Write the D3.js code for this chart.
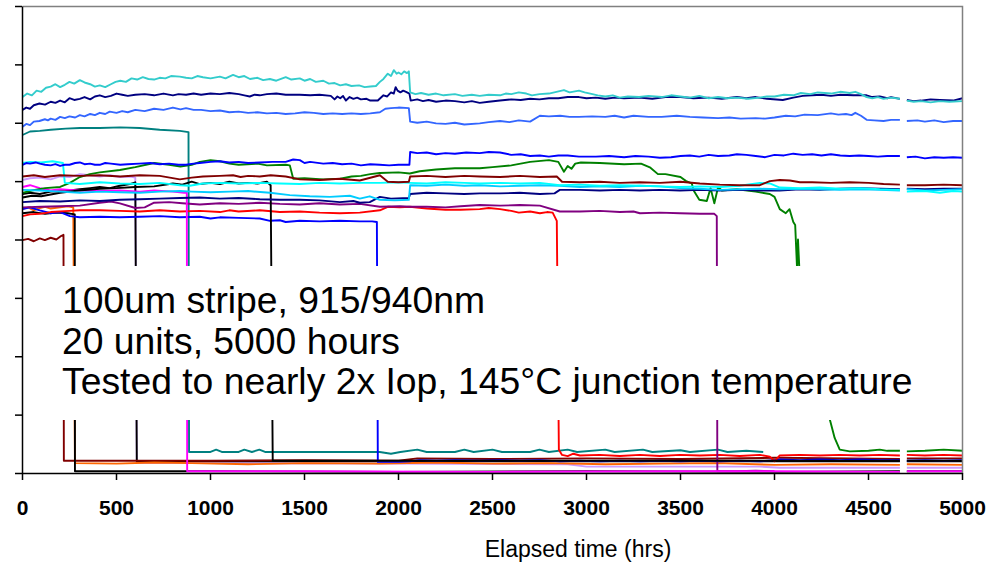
<!DOCTYPE html>
<html><head><meta charset="utf-8">
<script src="https://cdn.jsdelivr.net/npm/d3@7"></script>
<style>body{margin:0;background:#fff}svg{display:block}</style>
</head><body>
<svg id="c" width="1006" height="564"></svg>
<script>
// ---------- data (time in hours, value in axis units 0..8) ----------
const timeTicks = [0,500,1000,1500,2000,2500,3000,3500,4000,4500,5000];
const valueTicks = [0,1,2,3,4,5,6,7,8];
const xTitle = "Elapsed time (hrs)";
const notes = ["100um stripe, 915/940nm","20 units, 5000 hours","Tested to nearly 2x Iop, 145°C junction temperature"];

const turquoise = [[0,6.44],[25,6.50],[50,6.47],[75,6.55],[100,6.53],[125,6.60],[150,6.62],[175,6.66],[200,6.61],[225,6.65],[250,6.70],[275,6.67],[305,6.73],[330,6.69],[360,6.66],[385,6.62],[411,6.64],[440,6.61],[470,6.66],[495,6.70],[520,6.72],[550,6.70],[580,6.76],[610,6.74],[640,6.78],[670,6.75],[700,6.74],[730,6.77],[760,6.76],[790,6.80],[837,6.79],[870,6.77],[900,6.76],[930,6.80],[960,6.78],[1000,6.76],[1050,6.79],[1080,6.76],[1120,6.82],[1150,6.78],[1180,6.80],[1210,6.75],[1250,6.77],[1280,6.73],[1316,6.75],[1350,6.72],[1400,6.78],[1430,6.74],[1475,6.76],[1500,6.72],[1530,6.75],[1560,6.70],[1600,6.72],[1630,6.67],[1660,6.68],[1690,6.64],[1720,6.66],[1750,6.63],[1790,6.64],[1820,6.61],[1850,6.62],[1880,6.63],[1901,6.70],[1920,6.75],[1943,6.84],[1960,6.80],[1975,6.90],[1990,6.84],[2000,6.86],[2015,6.83],[2030,6.88],[2045,6.85],[2055,6.88],[2062,6.52],[2090,6.49],[2120,6.51],[2160,6.48],[2200,6.50],[2240,6.47],[2300,6.49],[2340,6.46],[2390,6.48],[2432,6.46],[2480,6.48],[2540,6.47],[2570,6.50],[2600,6.49],[2640,6.52],[2680,6.50],[2710,6.47],[2750,6.49],[2800,6.50],[2840,6.53],[2880,6.56],[2910,6.52],[2960,6.55],[2990,6.52],[3020,6.50],[3060,6.47],[3100,6.45],[3140,6.47],[3177,6.43],[3220,6.45],[3280,6.44],[3330,6.46],[3400,6.44],[3450,6.47],[3500,6.45],[3550,6.43],[3600,6.46],[3650,6.42],[3700,6.44],[3750,6.42],[3800,6.43],[3860,6.41],[3920,6.43],[3960,6.45],[4000,6.45],[4050,6.48],[4100,6.47],[4140,6.51],[4190,6.49],[4230,6.52],[4300,6.50],[4350,6.53],[4400,6.51],[4430,6.53],[4460,6.49],[4490,6.44],[4520,6.42],[4550,6.44],[4580,6.41],[4620,6.43],[4667,6.41],[4685,null],[4704,6.38],[4740,6.36],[4780,6.37],[4830,6.35],[4880,6.37],[4930,6.36],[5000,6.37]];
const navyTop = [[0,6.22],[20,6.26],[40,6.24],[60,6.30],[90,6.33],[120,6.31],[150,6.36],[175,6.34],[200,6.38],[225,6.35],[250,6.42],[275,6.39],[305,6.41],[330,6.44],[360,6.40],[385,6.45],[411,6.47],[440,6.44],[470,6.46],[500,6.50],[530,6.48],[560,6.46],[600,6.48],[650,6.49],[700,6.47],[750,6.50],[800,6.47],[830,6.49],[870,6.48],[910,6.50],[950,6.48],[1000,6.50],[1050,6.49],[1100,6.51],[1150,6.49],[1180,6.47],[1209,6.45],[1235,6.48],[1262,6.47],[1300,6.49],[1350,6.50],[1400,6.48],[1475,6.48],[1530,6.47],[1580,6.48],[1640,6.46],[1660,6.40],[1675,6.45],[1690,6.42],[1705,6.46],[1720,6.38],[1740,6.44],[1760,6.41],[1780,6.43],[1800,6.40],[1830,6.41],[1850,6.38],[1890,6.38],[1920,6.47],[1940,6.45],[1960,6.52],[1975,6.50],[1985,6.61],[1995,6.55],[2010,6.52],[2025,6.55],[2040,6.53],[2058,6.50],[2065,6.38],[2100,6.40],[2130,6.37],[2160,6.39],[2200,6.36],[2250,6.38],[2300,6.37],[2350,6.35],[2390,6.37],[2432,6.34],[2480,6.36],[2540,6.38],[2600,6.40],[2650,6.39],[2700,6.41],[2750,6.40],[2800,6.42],[2850,6.42],[2900,6.44],[2960,6.44],[3000,6.42],[3050,6.43],[3100,6.41],[3150,6.43],[3200,6.42],[3280,6.43],[3350,6.41],[3420,6.44],[3500,6.44],[3570,6.42],[3650,6.43],[3720,6.41],[3800,6.44],[3850,6.42],[3900,6.44],[3960,6.41],[4044,6.39],[4100,6.43],[4150,6.46],[4200,6.47],[4250,6.48],[4300,6.46],[4350,6.48],[4420,6.47],[4490,6.47],[4520,6.44],[4560,6.45],[4600,6.42],[4620,6.44],[4667,6.41],[4685,null],[4704,6.39],[4740,6.37],[4780,6.38],[4830,6.40],[4880,6.39],[4950,6.38],[5000,6.42]];
const royalBlue = [[0,5.93],[20,5.98],[40,5.96],[60,6.02],[90,6.03],[119,6.06],[135,6.04],[150,6.07],[175,6.05],[200,6.10],[225,6.08],[250,6.11],[280,6.09],[305,6.13],[330,6.11],[360,6.15],[385,6.13],[411,6.17],[440,6.15],[464,6.19],[500,6.17],[530,6.20],[560,6.18],[600,6.22],[650,6.20],[700,6.24],[750,6.22],[800,6.26],[840,6.23],[870,6.25],[910,6.22],[950,6.22],[1000,6.20],[1050,6.21],[1100,6.18],[1150,6.19],[1200,6.17],[1250,6.18],[1300,6.16],[1350,6.17],[1400,6.15],[1450,6.16],[1500,6.18],[1550,6.17],[1600,6.15],[1650,6.16],[1700,6.15],[1750,6.16],[1800,6.15],[1850,6.16],[1901,6.18],[1930,6.24],[1960,6.25],[2000,6.26],[2055,6.25],[2062,6.02],[2100,6.00],[2150,6.02],[2200,5.99],[2250,5.98],[2300,6.00],[2350,5.97],[2432,5.99],[2480,6.01],[2540,6.03],[2590,6.01],[2640,6.04],[2700,6.02],[2752,6.12],[2800,6.11],[2860,6.12],[2910,6.10],[2960,6.10],[3030,6.11],[3100,6.10],[3150,6.12],[3200,6.09],[3250,6.12],[3330,6.10],[3400,6.10],[3480,6.12],[3550,6.10],[3620,6.09],[3700,6.08],[3760,6.09],[3820,6.07],[3900,6.08],[3950,6.07],[4000,6.09],[4060,6.12],[4110,6.11],[4160,6.14],[4230,6.13],[4300,6.16],[4340,6.14],[4380,6.15],[4410,6.13],[4430,6.17],[4460,6.12],[4490,6.05],[4530,6.04],[4580,6.03],[4620,6.05],[4667,6.05],[4685,null],[4704,6.03],[4760,6.04],[4800,6.02],[4850,6.04],[4900,6.01],[4950,6.03],[5000,6.03]];
const teal = [[0,5.79],[40,5.85],[92,5.86],[150,5.88],[230,5.90],[305,5.91],[411,5.91],[520,5.92],[624,5.91],[730,5.88],[837,5.86],[883,5.84],[886,0.36],[1000,0.36],[1030,0.40],[1060,0.36],[1150,0.36],[1180,0.40],[1220,0.36],[1260,0.40],[1290,0.36],[1900,0.36],[1960,0.33],[2010,0.36],[2100,0.40],[2150,0.36],[2300,0.36],[2350,0.40],[2400,0.36],[2500,0.40],[2550,0.36],[2700,0.36],[2750,0.40],[2800,0.36],[2900,0.40],[2950,0.36],[3100,0.40],[3150,0.36],[3300,0.40],[3350,0.36],[3500,0.39],[3550,0.36],[3700,0.40],[3750,0.36],[3850,0.38],[3940,0.36]];
const blueTop = [[0,5.28],[20,5.31],[40,5.30],[70,5.32],[92,5.30],[120,5.28],[150,5.27],[175,5.29],[200,5.26],[225,5.28],[250,5.28],[280,5.31],[305,5.32],[330,5.29],[360,5.30],[385,5.28],[411,5.28],[440,5.31],[470,5.30],[520,5.28],[560,5.29],[620,5.30],[680,5.31],[730,5.29],[780,5.30],[830,5.28],[870,5.28],[910,5.30],[943,5.31],[1000,5.33],[1050,5.34],[1100,5.32],[1150,5.33],[1200,5.31],[1262,5.32],[1330,5.33],[1400,5.33],[1440,5.37],[1475,5.36],[1500,5.31],[1530,5.33],[1600,5.30],[1650,5.31],[1700,5.29],[1750,5.30],[1800,5.27],[1850,5.29],[1900,5.28],[1950,5.27],[2000,5.28],[2058,5.28],[2062,5.50],[2100,5.48],[2150,5.49],[2200,5.46],[2250,5.48],[2300,5.47],[2360,5.49],[2432,5.48],[2480,5.50],[2540,5.49],[2600,5.45],[2650,5.46],[2700,5.43],[2752,5.44],[2800,5.42],[2850,5.44],[2900,5.44],[2960,5.42],[3050,5.42],[3120,5.43],[3200,5.41],[3260,5.43],[3330,5.42],[3390,5.40],[3450,5.41],[3500,5.43],[3550,5.44],[3600,5.42],[3650,5.45],[3700,5.43],[3760,5.44],[3800,5.46],[3850,5.45],[3900,5.43],[3950,5.41],[4000,5.45],[4050,5.44],[4100,5.47],[4150,5.45],[4200,5.46],[4250,5.44],[4300,5.46],[4350,5.44],[4400,5.43],[4450,5.44],[4500,5.43],[4550,5.42],[4600,5.43],[4667,5.43],[4685,null],[4704,5.41],[4750,5.42],[4800,5.39],[4850,5.41],[4900,5.40],[4950,5.41],[5000,5.40]];
const green = [[0,4.80],[50,4.84],[120,4.88],[200,4.90],[252,4.97],[305,5.07],[358,5.12],[411,5.15],[518,5.19],[600,5.24],[700,5.31],[780,5.28],[840,5.25],[900,5.28],[943,5.33],[1000,5.36],[1050,5.34],[1100,5.30],[1150,5.28],[1250,5.30],[1300,5.27],[1400,5.28],[1422,5.27],[1440,5.04],[1500,5.05],[1600,5.03],[1690,5.04],[1750,5.08],[1800,5.09],[1850,5.12],[1900,5.14],[2000,5.15],[2060,5.13],[2113,5.17],[2200,5.20],[2300,5.22],[2432,5.22],[2500,5.24],[2600,5.27],[2700,5.33],[2800,5.36],[2850,5.33],[2880,5.16],[2900,5.26],[2920,5.21],[2940,5.30],[2970,5.32],[3071,5.31],[3200,5.29],[3290,5.30],[3340,5.23],[3380,5.12],[3420,5.12],[3500,5.07],[3530,5.00],[3560,4.96],[3570,4.84],[3600,4.68],[3640,4.66],[3660,4.88],[3680,4.62],[3700,4.90],[3720,4.84],[3800,4.86],[3900,4.82],[3975,4.78],[4000,4.73],[4028,4.52],[4060,4.45],[4080,4.52],[4100,4.30],[4110,4.25],[4120,3.50],[4125,4.00],[4135,3.30],[4150,2.50],[4294,0.92],[4320,0.60],[4347,0.40],[4400,0.37],[4500,0.38],[4560,0.40],[4600,0.38],[4667,0.38],[4685,null],[4704,0.37],[4800,0.38],[4900,0.40],[5000,0.38]];
const maroonTop = [[0,5.08],[60,5.10],[119,5.07],[200,5.10],[305,5.09],[411,5.10],[520,5.08],[624,5.10],[730,5.09],[837,5.03],[900,5.06],[960,5.08],[1050,5.09],[1120,5.10],[1160,5.07],[1200,5.09],[1262,5.08],[1320,5.10],[1400,5.08],[1475,5.03],[1580,5.02],[1688,5.04],[1794,5.01],[1901,5.10],[1943,4.99],[2000,4.98],[2055,4.99],[2062,5.08],[2150,5.09],[2250,5.07],[2350,5.09],[2432,5.08],[2540,5.07],[2645,5.09],[2752,5.07],[2842,5.08],[2870,4.99],[2965,4.98],[3071,4.99],[3177,4.97],[3284,4.98],[3390,4.97],[3500,4.99],[3603,4.96],[3709,4.94],[3815,4.93],[3922,4.93],[3975,5.00],[4028,5.02],[4082,5.01],[4135,4.98],[4200,4.98],[4300,4.97],[4400,4.98],[4500,4.97],[4580,4.95],[4667,4.94],[4685,null],[4704,4.93],[4800,4.93],[4900,4.94],[5000,4.93]];
const cyan = [[0,5.31],[40,5.33],[100,5.32],[160,5.34],[215,5.31],[225,4.97],[305,4.95],[411,4.98],[518,4.96],[624,4.95],[730,4.97],[837,4.93],[890,4.92],[960,4.96],[1050,4.97],[1150,4.96],[1262,4.97],[1369,4.96],[1475,4.95],[1580,4.97],[1688,4.96],[1794,4.97],[1901,4.97],[2000,4.98],[2060,4.97],[2150,4.96],[2250,4.98],[2350,4.97],[2432,4.96],[2540,4.97],[2645,4.96],[2752,4.97],[2858,4.93],[2965,4.94],[3071,4.92],[3177,4.93],[3284,4.92],[3390,4.91],[3497,4.90],[3603,4.91],[3709,4.90],[3815,4.92],[3922,4.97],[3975,4.96],[4028,4.89],[4135,4.88],[4241,4.89],[4347,4.87],[4454,4.88],[4560,4.86],[4667,4.85],[4685,null],[4704,4.82],[4800,4.83],[4880,4.80],[4950,4.83],[5000,4.82]];
const skyBlue = [[0,4.85],[92,4.84],[200,4.82],[305,4.80],[411,4.82],[518,4.81],[624,4.80],[730,4.82],[837,4.83],[900,4.82],[1000,4.81],[1100,4.82],[1200,4.83],[1316,4.80],[1422,4.76],[1528,4.74],[1635,4.73],[1741,4.75],[1794,4.70],[1847,4.74],[1901,4.68],[1980,4.67],[2055,4.68],[2062,4.93],[2150,4.92],[2250,4.94],[2350,4.92],[2432,4.93],[2540,4.91],[2645,4.92],[2752,4.93],[2858,4.92],[2965,4.90],[3071,4.91],[3177,4.90],[3284,4.92],[3390,4.91],[3497,4.88],[3603,4.87],[3709,4.85],[3815,4.86],[3922,4.87],[4028,4.86],[4135,4.87],[4241,4.86],[4347,4.85],[4454,4.86],[4560,4.85],[4667,4.84],[4685,null],[4704,4.86],[4800,4.84],[4900,4.85],[5000,4.86]];
const navyLow = [[0,4.64],[92,4.66],[200,4.65],[305,4.67],[411,4.66],[518,4.68],[624,4.69],[730,4.70],[837,4.71],[943,4.72],[1050,4.70],[1150,4.71],[1262,4.69],[1369,4.68],[1475,4.68],[1580,4.67],[1688,4.64],[1760,4.66],[1794,4.63],[1847,4.64],[1901,4.73],[1960,4.70],[2055,4.71],[2062,4.78],[2150,4.80],[2250,4.79],[2350,4.78],[2432,4.79],[2540,4.79],[2645,4.80],[2752,4.78],[2830,4.79],[2858,4.85],[2965,4.85],[3071,4.84],[3177,4.85],[3284,4.84],[3390,4.85],[3497,4.84],[3603,4.85],[3709,4.84],[3815,4.85],[3922,4.84],[4028,4.84],[4135,4.86],[4241,4.85],[4347,4.87],[4454,4.88],[4560,4.87],[4667,4.86],[4685,null],[4704,4.87],[4800,4.86],[4900,4.87],[5000,4.87]];
const purple = [[0,4.55],[100,4.56],[200,4.57],[305,4.58],[411,4.63],[470,4.65],[518,4.62],[600,4.54],[650,4.55],[700,4.63],[780,4.64],[850,4.62],[943,4.60],[1050,4.62],[1150,4.61],[1262,4.63],[1369,4.61],[1475,4.60],[1580,4.62],[1688,4.60],[1794,4.61],[1901,4.56],[2007,4.57],[2060,4.56],[2150,4.56],[2250,4.55],[2330,4.57],[2432,4.59],[2540,4.58],[2645,4.59],[2752,4.58],[2858,4.48],[2965,4.48],[3071,4.49],[3177,4.47],[3250,4.48],[3284,4.45],[3390,4.46],[3497,4.45],[3603,4.44],[3680,4.44],[3693,4.40],[3696,0.03],[3800,0.03],[3900,0.04],[4000,0.03]];
const red = [[0,4.40],[40,4.43],[92,4.44],[150,4.47],[250,4.49],[305,4.50],[411,4.50],[518,4.49],[624,4.48],[730,4.50],[837,4.48],[943,4.49],[1050,4.47],[1100,4.50],[1150,4.48],[1262,4.50],[1369,4.47],[1475,4.48],[1580,4.46],[1688,4.45],[1794,4.46],[1901,4.50],[1943,4.56],[2007,4.55],[2060,4.56],[2150,4.53],[2250,4.51],[2330,4.51],[2432,4.52],[2480,4.54],[2540,4.52],[2600,4.49],[2640,4.46],[2700,4.48],[2752,4.45],[2790,4.47],[2820,4.46],[2842,4.32],[2853,0.40],[2870,0.31],[2900,0.29],[2930,0.33],[2965,0.30],[3071,0.31],[3177,0.29],[3284,0.31],[3390,0.29],[3497,0.31],[3603,0.30],[3709,0.31],[3815,0.29],[3922,0.31],[3975,0.28],[4000,0.20],[4028,0.30],[4135,0.31],[4241,0.30],[4347,0.31],[4454,0.30],[4560,0.31],[4667,0.30],[4685,null],[4704,0.31],[4800,0.30],[4900,0.31],[5000,0.30]];
const blueLow = [[0,4.52],[40,4.55],[92,4.50],[150,4.45],[200,4.47],[252,4.40],[305,4.38],[411,4.39],[518,4.38],[624,4.39],[730,4.40],[837,4.38],[943,4.39],[1000,4.36],[1050,4.38],[1150,4.37],[1262,4.36],[1316,4.32],[1369,4.33],[1400,4.30],[1475,4.32],[1580,4.31],[1688,4.32],[1794,4.31],[1860,4.31],[1885,4.30],[1890,0.19],[2000,0.19],[2060,0.20],[2113,0.22],[2200,0.21],[2300,0.22],[2432,0.21],[2540,0.22],[2645,0.21],[2752,0.22],[2858,0.20],[2965,0.21],[3071,0.20],[3177,0.21],[3284,0.20],[3390,0.21],[3497,0.20],[3603,0.21],[3709,0.20],[3815,0.21],[3922,0.20],[4028,0.23],[4135,0.22],[4241,0.23],[4347,0.22],[4454,0.23],[4560,0.22],[4667,0.22],[4685,null],[4704,0.21],[4800,0.22],[4900,0.21],[5000,0.22]];
const blackA = [[0,4.45],[60,4.47],[120,4.44],[180,4.46],[240,4.45],[278,4.43],[279,0.03],[1000,0.03],[2000,0.02],[3000,0.03],[4000,0.02],[4667,0.03],[4685,null],[4704,0.03],[5000,0.03]];
const orange = [[0,4.52],[30,4.55],[60,4.50],[92,4.54],[120,4.56],[150,4.53],[200,4.55],[240,4.57],[270,4.55],[279,0.17],[500,0.16],[700,0.18],[900,0.17],[1200,0.15],[1500,0.17],[1900,0.16],[2200,0.18],[2500,0.16],[2800,0.17],[3100,0.15],[3400,0.16],[3700,0.17],[4000,0.14],[4300,0.15],[4667,0.14],[4685,null],[4704,0.15],[5000,0.14]];
const maroonLow = [[0,3.99],[30,4.01],[60,3.97],[92,4.02],[119,3.99],[150,4.03],[180,4.00],[205,4.06],[218,4.08],[220,0.21],[600,0.21],[1000,0.21],[1500,0.22],[2000,0.21],[2100,0.25],[2500,0.24],[3000,0.25],[3500,0.24],[4000,0.26],[4400,0.25],[4667,0.24],[4685,null],[4704,0.25],[5000,0.25]];
const magenta = [[0,4.90],[40,4.93],[92,4.88],[150,4.84],[200,4.86],[252,4.85],[305,4.84],[411,4.83],[518,4.84],[624,4.82],[700,4.84],[800,4.82],[860,4.80],[874,4.80],[876,0.03],[1500,0.03],[2500,0.02],[3500,0.03],[4000,0.03],[4667,0.02],[4685,null],[4704,0.03],[5000,0.03]];
const lavender = [[0,5.02],[40,5.05],[92,5.06],[150,5.03],[200,5.08],[252,5.07],[305,5.12],[360,5.10],[411,5.08],[464,5.10],[518,5.07],[571,5.08],[600,5.06],[608,0.17],[1000,0.17],[2000,0.16],[2900,0.15],[3000,0.11],[3922,0.11],[4028,0.09],[4667,0.09],[4685,null],[4704,0.09],[5000,0.09]];
const blackB = [[0,4.78],[40,4.80],[92,4.78],[150,4.82],[230,4.83],[305,4.86],[360,4.88],[411,4.90],[464,4.88],[518,4.92],[571,4.95],[600,4.98],[608,0.20],[1500,0.20],[3000,0.20],[4667,0.20],[4685,null],[4704,0.20],[5000,0.20]];
const blackC = [[0,4.72],[50,4.75],[100,4.74],[200,4.80],[300,4.84],[411,4.87],[500,4.88],[600,4.90],[700,4.91],[800,4.96],[850,4.94],[900,4.99],[943,4.95],[1000,4.97],[1050,4.95],[1100,4.99],[1150,4.96],[1200,4.97],[1250,4.96],[1300,4.99],[1320,4.93],[1331,0.21],[2000,0.21],[3000,0.21],[4667,0.21],[4685,null],[4704,0.21],[5000,0.21]];

const seriesData = [lavender, blackB, teal, maroonLow, orange, blackA, blueLow, red, purple, magenta, blackC, green, navyLow, skyBlue, cyan, maroonTop, blueTop, royalBlue, navyTop, turquoise];
const seriesColors = ["#CC99FF","#000000","#008080","#800000","#FF6600","#000000","#0000FF","#FF0000","#800080","#FF00FF","#000000","#008000","#000080","#00CCFF","#00FFFF","#800000","#0000FF","#3366FF","#000080","#33CCCC"];

// ---------- drawing ----------
const svg = d3.select("#c");
const x = d3.scaleLinear().domain([0,5000]).range([22,962]);
const y = d3.scaleLinear().domain([0,8]).range([473,6]);
const line = d3.line().defined(d => d[1] != null).x(d => x(d[0]) + 0.5).y(d => y(d[1]));

svg.append("g").attr("fill","none").attr("stroke-width",1.9).attr("stroke-linejoin","round")
  .selectAll("path").data(seriesData).join("path")
  .attr("stroke",(d,i)=>seriesColors[i]).attr("d",d=>line(d));

// text box (white, hides lines behind it)
svg.append("rect").attr("x",x(0)+2).attr("y",266).attr("width",x(5000)-x(0)-3).attr("height",154).attr("fill","#fff");
svg.append("g").attr("font-family","'Liberation Sans', Arial, sans-serif").attr("font-size",37.3).attr("fill","#000")
  .selectAll("text").data(notes).join("text")
  .attr("x",62).attr("y",(d,i)=>313+i*40.5).text(d=>d);

// frame top/right
svg.append("path").attr("fill","none").attr("stroke","#808080").attr("stroke-width",1.5)
  .attr("d",`M${x(0)+0.5},${y(8)+0.5}H${x(5000)+0.5}V${y(0)+0.5}`);

const xAxis = svg.append("g").attr("transform",`translate(0,${y(0)})`)
  .call(d3.axisBottom(x).tickValues(timeTicks).tickSize(7).tickSizeOuter(0).tickPadding(20).tickFormat(d3.format("d")));
xAxis.selectAll("text").attr("font-family","'Liberation Sans', Arial, sans-serif").attr("font-size",21).attr("font-weight","bold").attr("fill","#000");
xAxis.selectAll("line,path").attr("stroke","#000").attr("stroke-width",1.5);

const yAxis = svg.append("g").attr("transform",`translate(${x(0)},0)`)
  .call(d3.axisLeft(y).tickValues(valueTicks).tickSize(7).tickSizeOuter(0).tickFormat(""));
yAxis.selectAll("line,path").attr("stroke","#000").attr("stroke-width",1.5);

svg.append("text").attr("x",578).attr("y",557).attr("text-anchor","middle")
  .attr("font-family","'Liberation Sans', Arial, sans-serif").attr("font-size",23).attr("fill","#000").text(xTitle);
</script>
</body></html>
